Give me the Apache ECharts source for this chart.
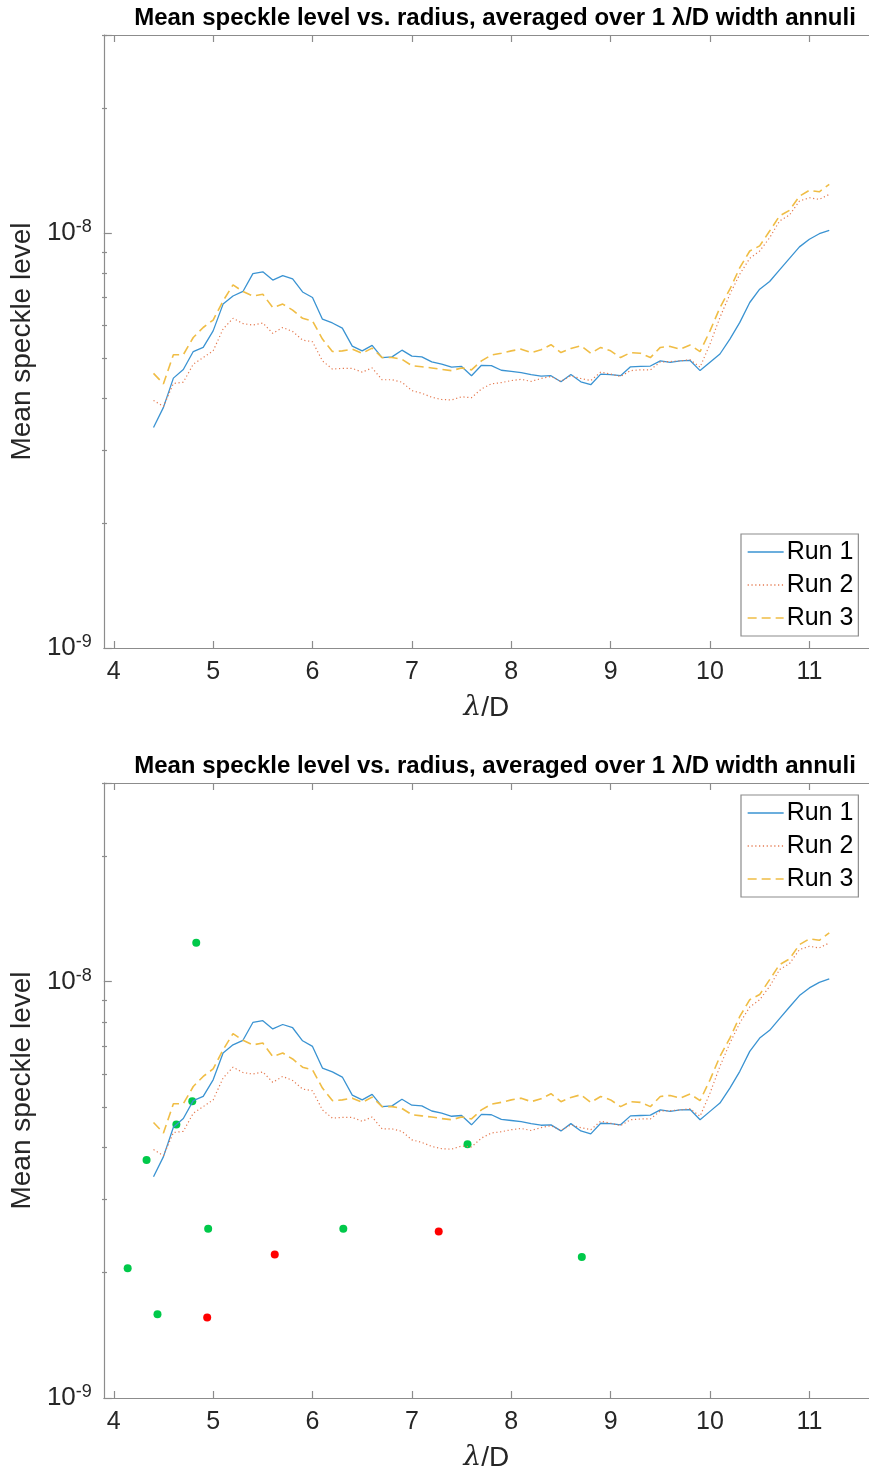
<!DOCTYPE html>
<html>
<head>
<meta charset="utf-8">
<script src="https://cdn.jsdelivr.net/npm/echarts@6/dist/echarts.min.js"></script>
<style>
  html, body { margin: 0; padding: 0; background: #fff; }
  #chart { width: 869px; height: 1474px; }
</style>
</head>
<body>
<div id="chart"></div>
<script>
// radius in lambda/D, speckle levels in units of 1e-9
const radius = [4.4, 4.5, 4.6, 4.7, 4.8, 4.9, 5.0, 5.1, 5.2, 5.3, 5.4, 5.5, 5.6, 5.7, 5.8, 5.9,
  6.0, 6.1, 6.2, 6.3, 6.4, 6.5, 6.6, 6.7, 6.8, 6.9, 7.0, 7.1, 7.2, 7.3, 7.4, 7.5, 7.6, 7.7, 7.8, 7.9,
  8.0, 8.1, 8.2, 8.3, 8.4, 8.5, 8.6, 8.7, 8.8, 8.9, 9.0, 9.1, 9.2, 9.3, 9.4, 9.5, 9.6, 9.7, 9.8, 9.9,
  10.0, 10.1, 10.2, 10.3, 10.4, 10.5, 10.6, 10.7, 10.8, 10.9, 11.0, 11.1, 11.2];

const run1 = [3.40, 3.80, 4.47, 4.69, 5.18, 5.30, 5.81, 6.74, 7.05, 7.23, 7.98, 8.06, 7.70, 7.89, 7.75, 7.21,
  6.99, 6.20, 6.07, 5.90, 5.34, 5.20, 5.36, 5.01, 5.03, 5.22, 5.05, 5.03, 4.89, 4.83, 4.75, 4.77, 4.53, 4.80, 4.79, 4.67,
  4.64, 4.61, 4.56, 4.52, 4.53, 4.38, 4.56, 4.38, 4.31, 4.57, 4.56, 4.53, 4.76, 4.77, 4.78, 4.92, 4.88, 4.92, 4.93, 4.66,
  4.88, 5.11, 5.55, 6.09, 6.80, 7.32, 7.64, 8.15, 8.69, 9.26, 9.66, 9.96, 10.15];

const run2 = [3.95, 3.82, 4.34, 4.37, 4.83, 5.01, 5.20, 5.87, 6.23, 6.05, 6.00, 6.07, 5.73, 5.92, 5.79, 5.52,
  5.47, 4.92, 4.70, 4.72, 4.72, 4.62, 4.73, 4.43, 4.43, 4.37, 4.17, 4.11, 4.02, 3.97, 3.96, 4.03, 4.01, 4.21, 4.33, 4.36,
  4.41, 4.44, 4.39, 4.46, 4.51, 4.39, 4.53, 4.46, 4.41, 4.62, 4.57, 4.51, 4.66, 4.68, 4.68, 4.89, 4.90, 4.92, 4.95, 4.75,
  5.40, 6.26, 7.12, 7.96, 8.69, 9.05, 9.74, 10.69, 11.05, 11.94, 12.16, 12.05, 12.39];

const run3 = [4.59, 4.33, 5.09, 5.09, 5.60, 5.92, 6.17, 6.86, 7.50, 7.23, 7.05, 7.12, 6.61, 6.74, 6.52, 6.23,
  6.14, 5.55, 5.18, 5.20, 5.25, 5.13, 5.28, 5.01, 5.01, 4.96, 4.79, 4.76, 4.73, 4.69, 4.66, 4.73, 4.68, 4.92, 5.08, 5.13,
  5.20, 5.25, 5.15, 5.23, 5.38, 5.15, 5.27, 5.35, 5.13, 5.30, 5.20, 5.01, 5.15, 5.13, 5.01, 5.30, 5.33, 5.25, 5.37, 5.18,
  5.81, 6.61, 7.32, 8.25, 9.05, 9.31, 10.11, 10.99, 11.34, 12.27, 12.67, 12.57, 13.10];

const greenX = [4.14, 4.33, 4.44, 4.63, 4.79, 4.83, 4.95, 6.31, 7.56, 8.71];
const greenY = [2.05, 3.73, 1.59, 4.54, 5.16, 12.4, 2.55, 2.55, 4.07, 2.18];
const redX = [4.94, 5.62, 7.27];
const redY = [1.56, 2.21, 2.51];

const xTicks = [4, 5, 6, 7, 8, 9, 10, 11];
const yMin = 1e-9;
const yMax = 3e-8;
const yMajorTicks = [1e-9, 1e-8];
const yMinorTicks = [2e-9, 3e-9, 4e-9, 5e-9, 6e-9, 7e-9, 8e-9, 9e-9, 2e-8, 3e-8];
const runNames = ['Run 1', 'Run 2', 'Run 3'];

const titleText = 'Mean speckle level vs. radius, averaged over 1 \u03bb/D width annuli';
const font = 'Liberation Sans, Arial, sans-serif';
const axisGray = '#8c8c8c';
const textColor = '#262626';
const NANO = 1e-9;

const chart = echarts.init(document.getElementById('chart'), null, { renderer: 'canvas' });

const gridLeft = 103;
const gridWidth = 767;
const gridTops = [35, 783];
const gridHeights = [613, 615];

function pairs(xs, ys) {
  return xs.map((x, i) => [x, ys[i] * NANO]);
}

// minor ticks ride on a hidden linear axis spanning log10 of the y range
const logMin = Math.log10(yMin);
const logMax = Math.log10(yMax);
function logTicks(vals) {
  return vals.map((v) => Math.min(logMax, Math.max(logMin, Math.log10(v))));
}

function xAxes(gridIndex) {
  const base = {
    type: 'value', gridIndex, min: 3.9, max: 11.6,
    splitLine: { show: false },
    axisLine: { show: true, onZero: false, lineStyle: { color: axisGray, width: 1.2 } },
    axisTick: { inside: true, length: 7, customValues: xTicks, lineStyle: { color: axisGray, width: 1.2 } }
  };
  return [
    Object.assign({}, base, {
      position: 'bottom',
      name: '{i|\u03bb}/D',
      nameLocation: 'middle',
      nameGap: 46,
      nameTextStyle: {
        fontSize: 28, color: textColor, fontFamily: font,
        rich: { i: { fontSize: 28, fontStyle: 'italic', color: textColor, fontFamily: 'DejaVu Serif, serif' } }
      },
      axisLabel: { customValues: xTicks, fontSize: 25, color: textColor, fontFamily: font, margin: 12 }
    }),
    Object.assign({}, base, { position: 'top', axisLabel: { show: false } })
  ];
}

function yAxes(gridIndex) {
  return [
    {
      type: 'log', logBase: 10, gridIndex, min: yMin, max: yMax, position: 'left',
      name: 'Mean speckle level', nameLocation: 'middle', nameGap: 66,
      nameTextStyle: { fontSize: 28, color: textColor, fontFamily: font },
      splitLine: { show: false },
      axisLine: { show: true, lineStyle: { color: axisGray, width: 1.2 } },
      axisTick: { show: true, inside: true, length: 8, lineStyle: { color: axisGray, width: 1.2 } },
      axisLabel: {
        customValues: yMajorTicks, margin: 12,
        formatter: (v) => '{b|10}{s|' + Math.round(Math.log10(v)) + '}',
        rich: {
          b: { fontSize: 26, color: textColor, fontFamily: font, lineHeight: 30 },
          s: { fontSize: 18, color: textColor, fontFamily: font, verticalAlign: 'top', lineHeight: 8 }
        }
      }
    },
    {
      // sits on the right slot, pulled back onto the left edge of the grid
      type: 'value', gridIndex, min: logMin, max: logMax, position: 'right', offset: -gridWidth,
      splitLine: { show: false },
      axisLine: { show: false },
      axisLabel: { show: false },
      axisTick: { show: true, inside: false, length: 5, customValues: logTicks(yMinorTicks), lineStyle: { color: axisGray, width: 1.2 } }
    }
  ];
}

const runStyles = [
  { color: '#3a93d2', width: 1.3, type: 'solid' },
  { color: '#e57a50', width: 1.2, type: [1.2, 2.6] },
  { color: '#f0bd45', width: 1.6, type: [9, 5] }
];

function runSeries(gridIndex) {
  return [run1, run2, run3].map((vals, k) => ({
    name: runNames[k],
    type: 'line',
    xAxisIndex: gridIndex * 2,
    yAxisIndex: gridIndex * 2,
    data: pairs(radius, vals),
    symbol: 'none',
    animation: false,
    itemStyle: { color: runStyles[k].color },
    lineStyle: runStyles[k]
  }));
}

function dotSeries(name, xs, ys, color) {
  return {
    name, type: 'scatter', xAxisIndex: 2, yAxisIndex: 2,
    data: pairs(xs, ys), symbolSize: 8, animation: false,
    itemStyle: { color, opacity: 1 }
  };
}

function legendAt(top) {
  return {
    data: runNames, orient: 'vertical', left: 741, top,
    padding: [3, 5, 3, 6], itemGap: 3, itemWidth: 36, itemHeight: 14,
    backgroundColor: '#fff', borderColor: axisGray, borderWidth: 1.2,
    selectedMode: false,
    itemStyle: { opacity: 0 },
    lineStyle: { width: 1.3 },
    textStyle: { fontSize: 25, color: '#000', fontFamily: font, lineHeight: 30, padding: [0, 0, 0, -2] }
  };
}

const option = {
  backgroundColor: '#fff',
  animation: false,
  title: gridTops.map((t) => ({
    text: titleText, left: 490, top: t - 34, textAlign: 'center',
    textStyle: { fontSize: 24, fontWeight: 'bold', color: '#000', fontFamily: font }
  })),
  grid: gridTops.map((t, i) => ({ left: gridLeft, width: gridWidth, top: t, height: gridHeights[i] })),
  legend: [legendAt(534), legendAt(795)],
  xAxis: [...xAxes(0), ...xAxes(1)],
  yAxis: [...yAxes(0), ...yAxes(1)],
  series: [
    ...runSeries(0),
    ...runSeries(1),
    dotSeries('Green', greenX, greenY, '#00c94a'),
    dotSeries('Red', redX, redY, '#ff0000')
  ]
};

chart.setOption(option);
</script>
</body>
</html>
